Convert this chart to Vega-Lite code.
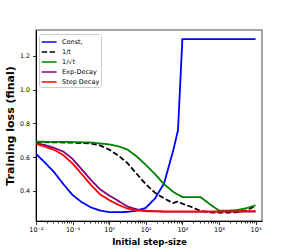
{
  "$schema": "https://vega.github.io/schema/vega-lite/v6.json",
  "autosize": {"type": "none"},
  "padding": {"left": 36, "top": 30, "right": 29, "bottom": 28},
  "width": 226,
  "height": 191,
  "background": "white",
  "view": {"stroke": "#888888", "strokeWidth": 1.5},
  "config": {
    "font": "DejaVu Sans",
    "axis": {"domainColor": "#000000", "tickColor": "#000000", "labelColor": "#000000", "titleColor": "#000000", "grid": false, "labelFont": "DejaVu Sans", "titleFont": "DejaVu Sans"}
  },
  "data": {"values": [
    {"series": "Const,", "step": 0.01, "loss": 0.62},
    {"series": "Const,", "step": 0.01778, "loss": 0.567},
    {"series": "Const,", "step": 0.03162, "loss": 0.51},
    {"series": "Const,", "step": 0.05623, "loss": 0.44},
    {"series": "Const,", "step": 0.1, "loss": 0.376},
    {"series": "Const,", "step": 0.1778, "loss": 0.333},
    {"series": "Const,", "step": 0.3162, "loss": 0.303},
    {"series": "Const,", "step": 0.5623, "loss": 0.284},
    {"series": "Const,", "step": 1, "loss": 0.275},
    {"series": "Const,", "step": 1.778, "loss": 0.274},
    {"series": "Const,", "step": 3.162, "loss": 0.276},
    {"series": "Const,", "step": 5.623, "loss": 0.283},
    {"series": "Const,", "step": 10, "loss": 0.30},
    {"series": "Const,", "step": 17.78, "loss": 0.355},
    {"series": "Const,", "step": 31.62, "loss": 0.445},
    {"series": "Const,", "step": 56.23, "loss": 0.64},
    {"series": "Const,", "step": 75.86, "loss": 0.76},
    {"series": "Const,", "step": 100, "loss": 1.30},
    {"series": "Const,", "step": 1000, "loss": 1.30},
    {"series": "Const,", "step": 10000, "loss": 1.30},
    {"series": "1/t", "step": 0.01, "loss": 0.690},
    {"series": "1/t", "step": 0.03162, "loss": 0.688},
    {"series": "1/t", "step": 0.1, "loss": 0.686},
    {"series": "1/t", "step": 0.3162, "loss": 0.681},
    {"series": "1/t", "step": 0.5623, "loss": 0.670},
    {"series": "1/t", "step": 1, "loss": 0.645},
    {"series": "1/t", "step": 1.778, "loss": 0.61},
    {"series": "1/t", "step": 3.162, "loss": 0.565},
    {"series": "1/t", "step": 5.623, "loss": 0.502},
    {"series": "1/t", "step": 10, "loss": 0.44},
    {"series": "1/t", "step": 17.78, "loss": 0.39},
    {"series": "1/t", "step": 31.62, "loss": 0.356},
    {"series": "1/t", "step": 56.23, "loss": 0.328},
    {"series": "1/t", "step": 75.86, "loss": 0.338},
    {"series": "1/t", "step": 100, "loss": 0.324},
    {"series": "1/t", "step": 177.8, "loss": 0.305},
    {"series": "1/t", "step": 316.2, "loss": 0.282},
    {"series": "1/t", "step": 562.3, "loss": 0.273},
    {"series": "1/t", "step": 1000, "loss": 0.272},
    {"series": "1/t", "step": 1778, "loss": 0.272},
    {"series": "1/t", "step": 3162, "loss": 0.274},
    {"series": "1/t", "step": 5623, "loss": 0.285},
    {"series": "1/t", "step": 10000, "loss": 0.312},
    {"series": "1/√t", "step": 0.01, "loss": 0.692},
    {"series": "1/√t", "step": 0.1, "loss": 0.690},
    {"series": "1/√t", "step": 0.3162, "loss": 0.687},
    {"series": "1/√t", "step": 1, "loss": 0.676},
    {"series": "1/√t", "step": 1.778, "loss": 0.665},
    {"series": "1/√t", "step": 3.162, "loss": 0.645},
    {"series": "1/√t", "step": 5.623, "loss": 0.605},
    {"series": "1/√t", "step": 10, "loss": 0.555},
    {"series": "1/√t", "step": 17.78, "loss": 0.50},
    {"series": "1/√t", "step": 31.62, "loss": 0.44},
    {"series": "1/√t", "step": 56.23, "loss": 0.395},
    {"series": "1/√t", "step": 100, "loss": 0.364},
    {"series": "1/√t", "step": 177.8, "loss": 0.363},
    {"series": "1/√t", "step": 316.2, "loss": 0.363},
    {"series": "1/√t", "step": 562.3, "loss": 0.322},
    {"series": "1/√t", "step": 1000, "loss": 0.284},
    {"series": "1/√t", "step": 1778, "loss": 0.283},
    {"series": "1/√t", "step": 3162, "loss": 0.287},
    {"series": "1/√t", "step": 5623, "loss": 0.298},
    {"series": "1/√t", "step": 10000, "loss": 0.315},
    {"series": "Exp-Decay", "step": 0.01, "loss": 0.683},
    {"series": "Exp-Decay", "step": 0.01778, "loss": 0.672},
    {"series": "Exp-Decay", "step": 0.03162, "loss": 0.655},
    {"series": "Exp-Decay", "step": 0.05623, "loss": 0.633},
    {"series": "Exp-Decay", "step": 0.1, "loss": 0.59},
    {"series": "Exp-Decay", "step": 0.1778, "loss": 0.528},
    {"series": "Exp-Decay", "step": 0.3162, "loss": 0.465},
    {"series": "Exp-Decay", "step": 0.5623, "loss": 0.41},
    {"series": "Exp-Decay", "step": 1, "loss": 0.373},
    {"series": "Exp-Decay", "step": 1.778, "loss": 0.341},
    {"series": "Exp-Decay", "step": 3.162, "loss": 0.308},
    {"series": "Exp-Decay", "step": 5.623, "loss": 0.291},
    {"series": "Exp-Decay", "step": 10, "loss": 0.283},
    {"series": "Exp-Decay", "step": 31.62, "loss": 0.278},
    {"series": "Exp-Decay", "step": 100, "loss": 0.277},
    {"series": "Exp-Decay", "step": 1000, "loss": 0.277},
    {"series": "Exp-Decay", "step": 10000, "loss": 0.277},
    {"series": "Step Decay", "step": 0.01, "loss": 0.679},
    {"series": "Step Decay", "step": 0.01778, "loss": 0.662},
    {"series": "Step Decay", "step": 0.03162, "loss": 0.643},
    {"series": "Step Decay", "step": 0.05623, "loss": 0.612},
    {"series": "Step Decay", "step": 0.1, "loss": 0.562},
    {"series": "Step Decay", "step": 0.1778, "loss": 0.50},
    {"series": "Step Decay", "step": 0.3162, "loss": 0.436},
    {"series": "Step Decay", "step": 0.5623, "loss": 0.38},
    {"series": "Step Decay", "step": 1, "loss": 0.346},
    {"series": "Step Decay", "step": 1.778, "loss": 0.318},
    {"series": "Step Decay", "step": 3.162, "loss": 0.296},
    {"series": "Step Decay", "step": 5.623, "loss": 0.285},
    {"series": "Step Decay", "step": 10, "loss": 0.28},
    {"series": "Step Decay", "step": 31.62, "loss": 0.278},
    {"series": "Step Decay", "step": 100, "loss": 0.277},
    {"series": "Step Decay", "step": 1000, "loss": 0.278},
    {"series": "Step Decay", "step": 10000, "loss": 0.281}
  ]},
  "mark": {"type": "line", "strokeWidth": 1.8, "clip": true},
  "encoding": {
    "x": {
      "field": "step", "type": "quantitative",
      "scale": {"type": "log", "domain": [0.01, 15000], "nice": false},
      "axis": {
        "title": "Initial step-size",
        "titleFontWeight": "bold", "titleFontSize": 8.6, "titlePadding": 4,
        "values": [0.01, 0.02, 0.03, 0.04, 0.05, 0.06, 0.07, 0.08, 0.09, 0.1, 0.2, 0.3, 0.4, 0.5, 0.6, 0.7, 0.8, 0.9, 1, 2, 3, 4, 5, 6, 7, 8, 9, 10, 20, 30, 40, 50, 60, 70, 80, 90, 100, 200, 300, 400, 500, 600, 700, 800, 900, 1000, 2000, 3000, 4000, 5000, 6000, 7000, 8000, 9000, 10000],
        "labelExpr": "datum.value == 0.01 ? '10⁻²' : datum.value == 0.1 ? '10⁻¹' : datum.value == 1 ? '10⁰' : datum.value == 10 ? '10¹' : datum.value == 100 ? '10²' : datum.value == 1000 ? '10³' : datum.value == 10000 ? '10⁴' : ''",
        "labelOverlap": false,
        "labelFontSize": 6.5,
        "labelPadding": 2,
        "labelFlush": false,
        "tickSize": {"condition": {"test": "indexof([0.01, 0.1, 1, 10, 100, 1000, 10000], datum.value) >= 0", "value": 3.5}, "value": 2},
        "tickWidth": 0.8,
        "domainWidth": 1
      }
    },
    "y": {
      "field": "loss", "type": "quantitative",
      "scale": {"domain": [0.222, 1.354], "nice": false, "zero": false},
      "axis": {
        "title": "Training loss (final)",
        "titleFontWeight": "bold", "titleFontSize": 11, "titlePadding": 4,
        "values": [0.4, 0.6, 0.8, 1.0, 1.2],
        "format": ".1f",
        "labelFontSize": 6.3,
        "labelPadding": 3,
        "tickSize": 3.5,
        "tickWidth": 0.8,
        "domainWidth": 1
      }
    },
    "color": {
      "field": "series", "type": "nominal",
      "scale": {"domain": ["Const,", "1/t", "1/√t", "Exp-Decay", "Step Decay"], "range": ["#0000ff", "#000000", "#008000", "#800080", "#ff0000"]},
      "legend": {
        "title": null, "orient": "none", "legendX": 3, "legendY": 4,
        "symbolType": "M-1,0H1.8", "symbolSize": 114, "symbolStrokeWidth": 1.5,
        "labelFontSize": 6.5, "labelFont": "DejaVu Sans", "labelColor": "#000000",
        "rowPadding": 0, "padding": 1.5, "strokeColor": "#cccccc", "fillColor": "white", "cornerRadius": 2,
        "labelOffset": 8.5
      }
    },
    "strokeDash": {
      "field": "series", "type": "nominal",
      "scale": {"domain": ["Const,", "1/t", "1/√t", "Exp-Decay", "Step Decay"], "range": [[1, 0], [5.5, 2.4], [1, 0], [1, 0], [1, 0]]},
      "legend": {
        "title": null, "orient": "none", "legendX": 3, "legendY": 4,
        "symbolType": "M-1,0H1.8", "symbolSize": 114, "symbolStrokeWidth": 1.5,
        "labelFontSize": 6.5, "labelFont": "DejaVu Sans", "labelColor": "#000000",
        "rowPadding": 0, "padding": 1.5, "strokeColor": "#cccccc", "fillColor": "white", "cornerRadius": 2,
        "labelOffset": 8.5
      }
    }
  }
}
